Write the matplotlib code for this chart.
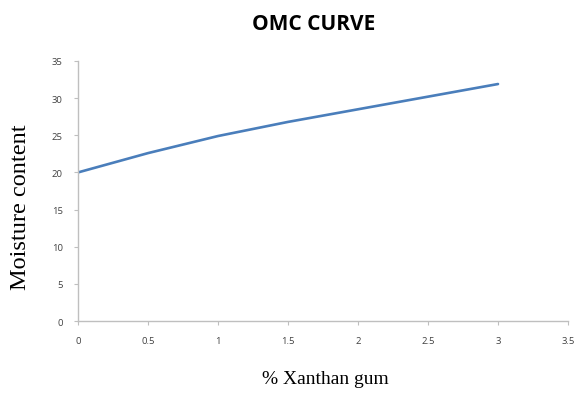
import matplotlib
matplotlib.use("Agg")
import matplotlib.pyplot as plt

xanthan = [0, 0.5, 1, 1.5, 2, 2.5, 3]
moisture = [20, 22.6, 24.9, 26.8, 28.5, 30.2, 31.9]
xticks = [0, 0.5, 1, 1.5, 2, 2.5, 3, 3.5]
yticks = [0, 5, 10, 15, 20, 25, 30, 35]

fig = plt.figure(figsize=(5.78, 4.10), dpi=100)
ax = fig.add_axes([78/578, 1 - 322/410, 490/578, 260/410])
ax.plot(xanthan, moisture, color="#4A7EBB", lw=1.9, solid_capstyle="round")
ax.set_xlim(0, 3.5)
ax.set_ylim(0, 35)
ax.set_xticks(xticks)
ax.set_xticklabels([f"{t:g}" for t in xticks])
ax.set_yticks(yticks)
for s in ["top", "right"]:
    ax.spines[s].set_visible(False)
for s in ["left", "bottom"]:
    ax.spines[s].set_color("#BFBFBF")
    ax.spines[s].set_linewidth(1.0)
ax.tick_params(axis="both", colors="#BFBFBF", length=3, width=0.8, labelsize=6.8,
               labelcolor="#404040", pad=8)
for lab in ax.get_xticklabels() + ax.get_yticklabels():
    lab.set_family("Open Sans")

fig.text(314/578, 1 - 25/410, "OMC CURVE", ha="center", va="center",
         fontsize=15, fontweight="bold", family="Open Sans")
fig.text(21/578, 1 - 207/410, "Moisture content", rotation=90, ha="center", va="center",
         fontsize=17.5, family="Liberation Serif")
fig.text(325/578, 1 - 380/410, "% Xanthan gum", ha="center", va="center",
         fontsize=14, family="Liberation Serif")

fig.savefig("out.png", dpi=100)
